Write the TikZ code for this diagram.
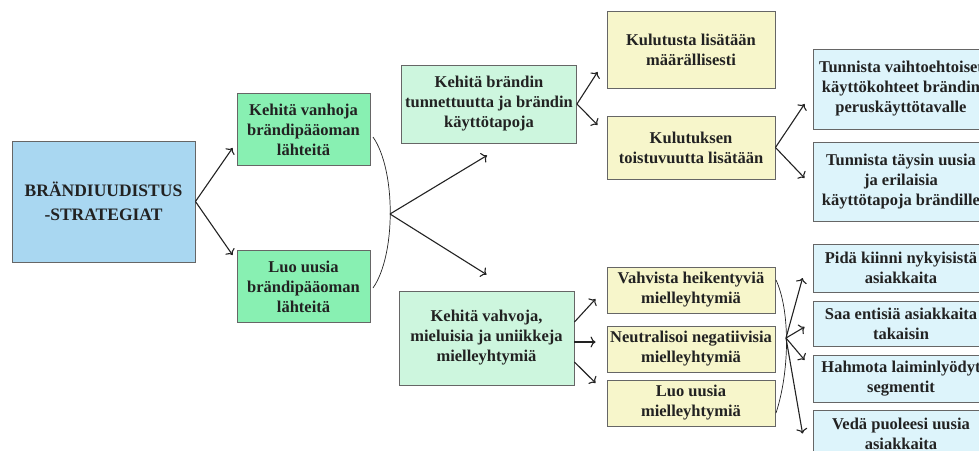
\documentclass[tikz,border=0pt]{standalone}
\usepackage{fontspec}
\setmainfont{Liberation Serif}
\newfontfamily\boxfont{Liberation Serif}[BoldFont={Liberation Serif Bold}]
\usepackage{xcolor}
\usetikzlibrary{calc, arrows.meta, positioning}
\definecolor{stratblue}{HTML}{A9D7F1}
\definecolor{sourcegreen}{HTML}{88F0B2}
\definecolor{palegreen}{HTML}{CDF6DE}
\definecolor{paleyellow}{HTML}{F7F6CB}
\definecolor{paleblue}{HTML}{DDF4FB}
\definecolor{boxgray}{HTML}{666666}
\definecolor{inkdark}{HTML}{222222}
\tikzset{
    boxnode/.style = {draw=boxgray, rectangle, line width=0.9pt, inner sep=0.1em, text=inkdark,
      font=\boxfont\fontsize{16.5}{20}\selectfont\bfseries, node distance=0em},
    stratnode/.style = {boxnode, fill=stratblue, minimum width=183pt, minimum height=121pt,
      font=\boxfont\fontsize{17.5}{24}\selectfont\bfseries},
    sourcenode/.style = {boxnode, fill=sourcegreen, minimum width=133pt, minimum height=72pt},
    waynode/.style = {boxnode, fill=palegreen, minimum width=175pt},
    stepnode/.style = {boxnode, fill=paleyellow, minimum width=168pt},
    actnode/.style = {boxnode, fill=paleblue, minimum width=175pt},
    connect/.style = {inkdark, -{To[length=5pt,width=11pt]}, line width=1.1pt},
    bracket/.style = {inkdark, line width=0.7pt},
    every text node part/.style={align=center}
}
\begin{document}
\begin{tikzpicture}[x=1pt, y=-1pt]
\useasboundingbox (0,0) rectangle (979,450);
\clip (0,0) rectangle (979,450);
\node[stratnode, name=strat] at (103.5,201.5) {BRÄNDIUUDISTUS\\-STRATEGIAT};
\node[sourcenode, name=old, right of = strat, xshift=200pt, yshift=72pt] {Kehitä vanhoja\\brändipääoman\\lähteitä};
\node[sourcenode, name=new, right of = old, yshift=-157pt] {Luo uusia\\brändipääoman\\lähteitä};
\node[waynode, name=aware, minimum height=78pt, right of = old, xshift=185.5pt, yshift=25.5pt] {Kehitä brändin\\tunnettuutta ja brändin\\käyttötapoja};
\node[waynode, name=assoc, minimum height=94pt, right of = new, xshift=183pt, yshift=-51.5pt] {Kehitä vahvoja,\\mieluisia ja uniikkeja\\mielleyhtymiä};
\node[stepnode, name=quant, minimum height=77pt, right of = aware, xshift=202pt, yshift=54.5pt] {Kulutusta lisätään\\määrällisesti};
\node[stepnode, name=freq, minimum height=63pt, right of = quant, yshift=-98pt] {Kulutuksen\\toistuvuutta lisätään};
\node[stepnode, name=weak, minimum height=46pt, right of = assoc, xshift=204.5pt, yshift=48pt] {Vahvista heikentyviä\\mielleyhtymiä};
\node[stepnode, name=neutral, minimum height=46pt, right of = weak, yshift=-59pt] {Neutralisoi negatiivisia\\mielleyhtymiä};
\node[stepnode, name=newassoc, minimum height=46pt, right of = neutral, yshift=-54pt] {Luo uusia\\mielleyhtymiä};
\node[actnode, name=alt, minimum height=80pt, right of = quant, xshift=210pt, yshift=-39.5pt] {Tunnista vaihtoehtoiset\\käyttökohteet brändin\\peruskäyttötavalle};
\node[actnode, name=novel, minimum height=79pt, right of = alt, yshift=-92.5pt] {Tunnista täysin uusia\\ja erilaisia\\käyttötapoja brändille};
\node[actnode, name=keep, minimum height=48pt, right of = weak, xshift=210pt, yshift=22pt] {Pidä kiinni nykyisistä\\asiakkaita};
\node[actnode, name=regain, minimum height=45pt, right of = keep, yshift=-55.5pt] {Saa entisiä asiakkaita\\takaisin};
\node[actnode, name=segment, minimum height=47pt, right of = regain, yshift=-55pt] {Hahmota laiminlyödyt\\segmentit};
\node[actnode, name=attract, minimum height=47pt, right of = segment, yshift=-55pt] {Vedä puoleesi uusia\\asiakkaita};
% brackets and their forks
\coordinate (fork1) at (390,214);
\coordinate (fork2) at (786,338);
\draw[bracket] (373,137) .. controls (396,170) and (396,255) .. (373,288);
\draw[bracket] (776,280) .. controls (790,310) and (790,370) .. (776,413);
\draw[connect] (strat.east) -- ($(old.west)+(-4,18.5)$);
\draw[connect] (strat.east) -- ($(new.west)+(-4,-31.5)$);
\draw[connect] (fork1) -- ($(aware.south)+(-2,12)$);
\draw[connect] (fork1) -- ($(assoc.north)+(0,-16)$);
\draw[connect] (aware.east) -- ($(quant.west)+(-9,22.5)$);
\draw[connect] (aware.east) -- ($(freq.west)+(-9,-22.5)$);
\draw[connect] (freq.east) -- ($(alt.west)+(-8.5,15)$);
\draw[connect] (freq.east) -- ($(novel.west)+(-8.5,-3.5)$);
\draw[connect] ($(assoc.east)+(0,-16)$) -- ($(weak.west)+(-11,9)$);
\draw[connect] ($(assoc.east)+(0,4)$) -- ($(neutral.west)+(-11,-7)$);
\draw[connect] ($(assoc.east)+(0,24)$) -- ($(newassoc.west)+(-11,-20)$);
\draw[connect] (fork2) -- ($(keep.west)+(-10.5,10)$);
\draw[connect] (fork2) -- ($(regain.west)+(-8.5,3.5)$);
\draw[connect] (fork2) -- ($(segment.west)+(-8.5,-18.5)$);
\draw[connect] (fork2) -- ($(attract.west)+(-10.5,0)$);
\end{tikzpicture}
\end{document}
